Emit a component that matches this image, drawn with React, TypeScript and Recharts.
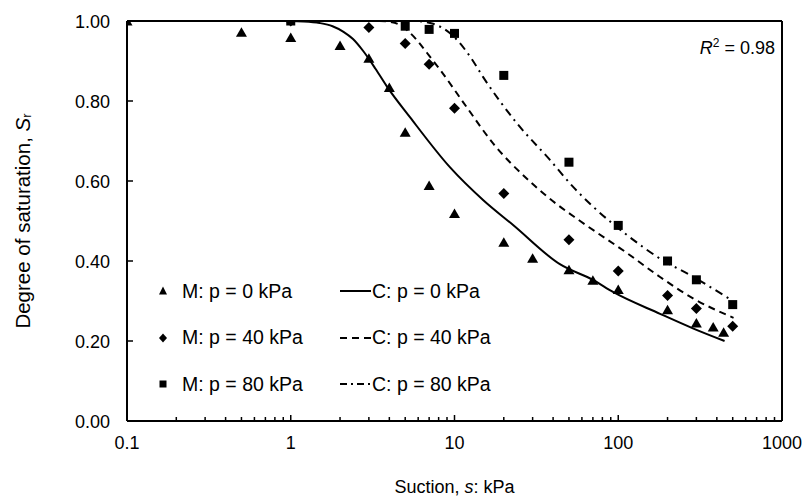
import React from 'react';
import { ComposedChart, Line, Scatter, XAxis, YAxis, ReferenceLine, Legend, Label } from 'recharts';

// ---------- data ----------
const majorTicksX = [0.1, 1, 10, 100, 1000];
const majorTickLabelsX = ['0.1', '1', '10', '100', '1000'];
const minorTicksX = [
  0.2, 0.3, 0.4, 0.5, 0.6, 0.7, 0.8, 0.9,
  2, 3, 4, 5, 6, 7, 8, 9,
  20, 30, 40, 50, 60, 70, 80, 90,
  200, 300, 400, 500, 600, 700, 800, 900,
];
const ticksY = [0, 0.2, 0.4, 0.6, 0.8, 1.0];
const tickLabelsY = ['0.00', '0.20', '0.40', '0.60', '0.80', '1.00'];

const seriesNamesM = ['M: p = 0 kPa', 'M: p = 40 kPa', 'M: p = 80 kPa'];
const seriesNamesC = ['C: p = 0 kPa', 'C: p = 40 kPa', 'C: p = 80 kPa'];

// measured points
const m0Suction = [0.1, 0.5, 1, 2, 3, 4, 5, 7, 10, 20, 30, 50, 70, 100, 200, 300, 380, 440];
const m0Sr = [1.0, 0.972, 0.959, 0.939, 0.907, 0.834, 0.722, 0.589, 0.519, 0.447, 0.407, 0.378, 0.352, 0.329, 0.278, 0.245, 0.235, 0.222];

const m40Suction = [1, 3, 5, 7, 10, 20, 50, 100, 200, 300, 500];
const m40Sr = [1.0, 0.984, 0.944, 0.892, 0.782, 0.569, 0.453, 0.375, 0.314, 0.281, 0.237];

const m80Suction = [1, 5, 7, 10, 20, 50, 100, 200, 300, 500];
const m80Sr = [1.0, 0.987, 0.979, 0.969, 0.864, 0.647, 0.489, 0.4, 0.353, 0.291];

// calculated curves
const c0Suction = [0.1, 1, 1.2, 1.5, 1.8, 2.1, 2.4, 2.77, 3.3, 3.87, 5.36, 9.4, 15, 22.8, 44, 70.6, 93.5, 180, 288, 446];
const c0Sr = [1.0, 1.0, 0.999, 0.995, 0.987, 0.973, 0.955, 0.925, 0.88, 0.836, 0.759, 0.634, 0.552, 0.49, 0.392, 0.352, 0.322, 0.268, 0.231, 0.2];

const c40Suction = [0.1, 3.5, 4.0, 4.65, 5.2, 5.9, 6.8, 8.2, 11.9, 17.2, 27.8, 38.4, 58.5, 113, 180, 288, 506];
const c40Sr = [1.0, 1.0, 0.998, 0.99, 0.975, 0.952, 0.92, 0.877, 0.784, 0.694, 0.605, 0.555, 0.5, 0.42, 0.36, 0.306, 0.258];

const c80Suction = [0.1, 5.5, 6.5, 7.4, 8.5, 10.4, 12.5, 15, 24.1, 38.4, 52, 70.6, 113, 180, 288, 480];
const c80Sr = [1.0, 1.0, 0.998, 0.993, 0.982, 0.952, 0.91, 0.859, 0.744, 0.652, 0.589, 0.535, 0.465, 0.406, 0.36, 0.305];

const r2Text = '0.98';

// ---------- helpers ----------
const zip = (xs: number[], ys: number[]) => xs.map((x, i) => ({ x, y: ys[i] }));

const m0Data = zip(m0Suction, m0Sr);
const m40Data = zip(m40Suction, m40Sr);
const m80Data = zip(m80Suction, m80Sr);
const c0Data = zip(c0Suction, c0Sr);
const c40Data = zip(c40Suction, c40Sr);
const c80Data = zip(c80Suction, c80Sr);

const allTicksX = [...majorTicksX, ...minorTicksX].sort((a, b) => a - b);

const FONT = 'Liberation Sans, Arial, sans-serif';
const FS = 18;

const XTick = (props: any) => {
  const { x, y, payload } = props;
  const v = payload.value;
  const idx = majorTicksX.indexOf(v);
  const major = idx >= 0;
  return (
    <g>
      <line x1={x} x2={x} y1={y} y2={y - (major ? 6 : 4)} stroke="#000" strokeWidth={1.5} />
      {major && (
        <text x={x} y={y + 28} textAnchor="middle" fontFamily={FONT} fontSize={FS} fill="#000">
          {majorTickLabelsX[idx]}
        </text>
      )}
    </g>
  );
};

const YTick = (props: any) => {
  const { x, y, payload } = props;
  const idx = ticksY.indexOf(payload.value);
  return (
    <g>
      <line x1={x} x2={x + 6} y1={y} y2={y} stroke="#000" strokeWidth={1.5} />
      <text x={x - 17} y={y + 6.5} textAnchor="end" fontFamily={FONT} fontSize={FS} fill="#000">
        {tickLabelsY[idx]}
      </text>
    </g>
  );
};

const Tri = (p: any) => (
  <path d={`M${p.cx},${p.cy - 5}L${p.cx + 5.5},${p.cy + 4.5}L${p.cx - 5.5},${p.cy + 4.5}Z`} fill="#000" />
);
const Dia = (p: any) => (
  <path d={`M${p.cx},${p.cy - 5.5}L${p.cx + 5.5},${p.cy}L${p.cx},${p.cy + 5.5}L${p.cx - 5.5},${p.cy}Z`} fill="#000" />
);
const Sq = (p: any) => <rect x={p.cx - 4.5} y={p.cy - 4.5} width={9} height={9} fill="#000" />;

const dashes = [undefined, '7 5', '8 5 2 5'];

const LegendMarker = ({ kind }: { kind: number }) => (
  <svg width={26} height={16} style={{ display: 'block' }}>
    {kind === 0 && <path d="M13,3.5L17,11.5L9,11.5Z" fill="#000" />}
    {kind === 1 && <path d="M13,3.5L17,8L13,12.5L9,8Z" fill="#000" />}
    {kind === 2 && <rect x={9.5} y={4.5} width={7} height={7} fill="#000" />}
  </svg>
);

const LegendLine = ({ kind }: { kind: number }) => (
  <svg width={32} height={16} style={{ display: 'block' }}>
    <line x1={0} x2={31} y1={8} y2={8} stroke="#000" strokeWidth={2} strokeDasharray={kind === 2 ? '7 4 2 4' : dashes[kind]} />
  </svg>
);

const renderLegend = () => (
  <div style={{ position: 'relative', width: 360, height: 140, fontFamily: FONT, fontSize: 19.5, color: '#000' }}>
    {seriesNamesM.map((name, i) => (
      <div key={i} style={{ position: 'absolute', left: 0, top: i * 46.5, height: 24, display: 'flex', alignItems: 'center', width: 360 }}>
        <div style={{ width: 190, display: 'flex', alignItems: 'center' }}>
          <LegendMarker kind={i} />
          <span style={{ marginLeft: 6, whiteSpace: 'nowrap' }}>{name}</span>
        </div>
        <div style={{ display: 'flex', alignItems: 'center' }}>
          <LegendLine kind={i} />
          <span style={{ whiteSpace: 'nowrap' }}>{seriesNamesC[i]}</span>
        </div>
      </div>
    ))}
  </div>
);

const XTitle = (props: any) => {
  const vb = props.viewBox;
  return (
    <text x={vb.x + vb.width / 2} y={vb.y + 72} textAnchor="middle" fontFamily={FONT} fontSize={18} fill="#000">
      Suction, <tspan fontStyle="italic">s</tspan>: kPa
    </text>
  );
};

const YTitle = (props: any) => {
  const vb = props.viewBox;
  const cx = 22;
  const cy = vb.y + vb.height / 2;
  return (
    <text x={cx} y={cy} transform={`rotate(-90 ${cx} ${cy})`} textAnchor="middle" dominantBaseline="central" fontFamily={FONT} fontSize={20.5} fill="#000">
      Degree of saturation, <tspan fontStyle="italic">S</tspan><tspan fontSize={13} dy={4}>r</tspan>
    </text>
  );
};

const R2Label = (props: any) => {
  const vb = props.viewBox;
  return (
    <text x={vb.x + vb.width - 7} y={vb.y + 33} textAnchor="end" fontFamily={FONT} fontSize={FS} fill="#000">
      <tspan fontStyle="italic">R</tspan>
      <tspan fontSize={12} dy={-7}>2</tspan>
      <tspan dy={7}> = {r2Text}</tspan>
    </text>
  );
};

export default function App() {
  return (
    <div style={{ position: 'absolute', left: 0, top: 0, width: 810, height: 500, background: '#fff' }}>
      <ComposedChart width={810} height={500} margin={{ top: 21, right: 28, left: 0, bottom: 0 }}>
        <XAxis
          type="number"
          dataKey="x"
          scale="log"
          domain={[0.1, 1000]}
          allowDataOverflow
          ticks={allTicksX}
          interval={0}
          tick={<XTick />}
          tickLine={false}
          tickSize={0}
          tickMargin={0}
          axisLine={{ stroke: '#000', strokeWidth: 2 }}
          height={79}
        >
          <Label content={<XTitle />} />
        </XAxis>
        <YAxis
          type="number"
          dataKey="y"
          domain={[0, 1]}
          allowDataOverflow
          ticks={ticksY}
          interval={0}
          tick={<YTick />}
          tickLine={false}
          tickSize={0}
          tickMargin={0}
          axisLine={{ stroke: '#000', strokeWidth: 2 }}
          width={127}
        >
          <Label content={<YTitle />} />
        </YAxis>
        <ReferenceLine y={1} stroke="#000" strokeWidth={2}>
          <Label content={<R2Label />} />
        </ReferenceLine>
        <ReferenceLine x={1000} stroke="#000" strokeWidth={2} />

        <Line data={c0Data} dataKey="y" type="monotone" dot={false} stroke="#000" strokeWidth={2} isAnimationActive={false} name={seriesNamesC[0]} />
        <Line data={c40Data} dataKey="y" type="monotone" dot={false} stroke="#000" strokeWidth={2} strokeDasharray={dashes[1]} isAnimationActive={false} name={seriesNamesC[1]} />
        <Line data={c80Data} dataKey="y" type="monotone" dot={false} stroke="#000" strokeWidth={2} strokeDasharray={dashes[2]} isAnimationActive={false} name={seriesNamesC[2]} />

        <Scatter data={m0Data} dataKey="y" shape={Tri} isAnimationActive={false} name={seriesNamesM[0]} />
        <Scatter data={m40Data} dataKey="y" shape={Dia} isAnimationActive={false} name={seriesNamesM[1]} />
        <Scatter data={m80Data} dataKey="y" shape={Sq} isAnimationActive={false} name={seriesNamesM[2]} />

        <Legend
          layout="vertical"
          align="center"
          verticalAlign="middle"
          content={renderLegend}
          wrapperStyle={{ left: 150, top: 279, width: 360, height: 140 }}
        />
      </ComposedChart>
    </div>
  );
}
